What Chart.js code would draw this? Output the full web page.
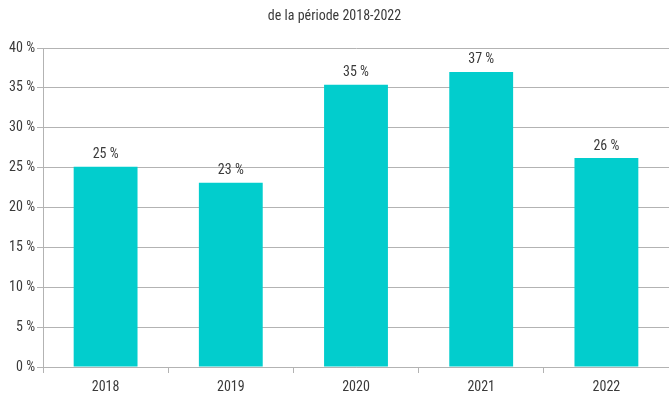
<!DOCTYPE html>
<html>
<head>
<meta charset="utf-8">
<script src="https://cdn.jsdelivr.net/npm/chart.js@4"></script>
<style>
  html, body { margin: 0; padding: 0; background: #fff; }
  #wrap { width: 669px; height: 398px; }
</style>
</head>
<body>
<div id="wrap"><canvas id="rateChart"></canvas></div>
<script>
// Yearly rates, in percent
const years = ['2018', '2019', '2020', '2021', '2022'];
const rates = [25.1, 23.1, 35.4, 37.0, 26.2];
const yTicks = [0, 5, 10, 15, 20, 25, 30, 35, 40];

const FONT = "'Roboto Condensed', 'DejaVu Sans Condensed', sans-serif";
const TEXT = '#3a3a3a';
const GRID = '#b3b3b3';

const pct = v => Math.round(v) + ' %';

// Value labels above each bar
const barLabels = {
  id: 'barLabels',
  afterDatasetsDraw(chart) {
    const ctx = chart.ctx;
    const meta = chart.getDatasetMeta(0);
    ctx.save();
    ctx.font = '14px ' + FONT;
    ctx.fillStyle = TEXT;
    ctx.textAlign = 'center';
    ctx.textBaseline = 'bottom';
    meta.data.forEach((bar, i) => {
      ctx.fillText(pct(rates[i]), bar.x, bar.y - 5);
    });
    ctx.restore();
  }
};

const ctx = document.getElementById('rateChart').getContext('2d');
new Chart(ctx, {
  type: 'bar',
  data: {
    labels: years,
    datasets: [{
      data: rates,
      backgroundColor: '#02cdcd',
      borderWidth: 0,
      categoryPercentage: 1,
      barPercentage: 0.51
    }]
  },
  options: {
    responsive: true,
    maintainAspectRatio: false,
    animation: false,
    layout: { padding: { left: 0, right: 0, top: 0, bottom: 0 } },
    plugins: {
      legend: { display: false },
      tooltip: { enabled: false },
      title: {
        display: true,
        text: 'de la période 2018-2022',
        color: TEXT,
        font: { family: FONT, size: 14, weight: 'normal' },
        padding: { top: 8, bottom: 23.2 }
      }
    },
    scales: {
      x: {
        grid: {
          display: true,
          offset: true,
          drawOnChartArea: false,
          drawTicks: true,
          tickLength: 6,
          color: GRID
        },
        border: { display: true, color: GRID },
        ticks: {
          color: TEXT,
          font: { family: FONT, size: 14 },
          padding: 6,
          maxRotation: 0
        },
        afterFit(scale) { scale.height = 31; }
      },
      y: {
        min: 0,
        max: 40,
        afterBuildTicks(scale) {
          scale.ticks = yTicks.map(v => ({ value: v }));
        },
        grid: {
          color: GRID,
          tickLength: 6,
          drawTicks: true
        },
        border: { display: true, color: GRID },
        ticks: {
          color: TEXT,
          font: { family: FONT, size: 14 },
          padding: 2,
          callback: v => v + ' %'
        },
        afterFit(scale) { scale.width = 43; }
      }
    }
  },
  plugins: [barLabels]
});
</script>
</body>
</html>
